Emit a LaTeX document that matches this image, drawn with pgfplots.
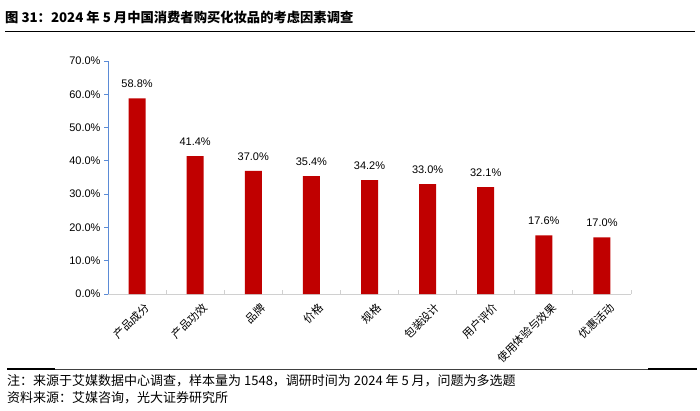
\documentclass[border=0pt]{standalone}
\usepackage{fontspec}
\setmainfont{Liberation Sans}
\newfontfamily\cjk{Noto Sans CJK SC}
\usepackage{pgfplots}
\pgfplotsset{compat=1.18}
\definecolor{barred}{HTML}{C00000}
\definecolor{yaxisblue}{HTML}{5B8BD6}
\definecolor{xaxisgray}{HTML}{D0D0D0}
\begin{document}
\begin{tikzpicture}[x=1pt,y=1pt]
\path[use as bounding box] (0pt,0pt) rectangle (700pt,410pt);
\node[anchor=west, inner sep=0pt, font=\cjk\bfseries\fontsize{13.3}{16}\selectfont] at (5pt,393pt) {图 31：2024 年 5 月中国消费者购买化妆品的考虑因素调查};
\draw[line width=1.5pt] (5pt,378.5pt) -- (695pt,378.5pt);
\begin{axis}[at={(108pt,116pt)}, anchor=south west, scale only axis,
  width=523pt, height=233pt,
  xmin=-0.5, xmax=8.5, ymin=0, ymax=70,
  axis x line=bottom, axis y line=left, axis line style={-},
  x axis line style={xaxisgray, line width=1pt},
  y axis line style={yaxisblue, line width=1pt},
  ytick={0,10,...,70},
  yticklabel={\pgfmathprintnumber[fixed,fixed zerofill,precision=1]{\tick}\%},
  y tick style={yaxisblue, line width=0.8pt},
  ytick align=outside, major tick length=4pt,
  y tick label style={font=\fontsize{11}{13}\selectfont, /pgf/number format/assume math mode=true},
  xtick={-0.5,0.5,...,8.5}, xticklabels={},
  x tick style={xaxisgray, line width=0.8pt},
  xtick align=inside,
  extra x ticks={0,1,2,3,4,5,6,7,8},
  extra x tick labels={产品成分,产品功效,品牌,价格,规格,包装设计,用户评价,使用体验与效果,优惠活动},
  extra x tick style={major tick length=0pt, tick label style={font=\cjk\fontsize{11}{13}\selectfont, rotate=45, anchor=north east, inner sep=0pt, xshift=-1pt, yshift=-10pt}},
  clip=false,
]
\addplot[ybar, bar width=17pt, fill=barred, draw=none,
  nodes near coords={\pgfmathprintnumber[fixed,fixed zerofill,precision=1]{\pgfplotspointmeta}\%},
  nodes near coords style={font=\fontsize{11}{13}\selectfont, text=black, yshift=7pt, /pgf/number format/assume math mode=true}]
coordinates {(0,58.8) (1,41.4) (2,37.0) (3,35.4) (4,34.2) (5,33.0) (6,32.1) (7,17.6) (8,17.0)};
\end{axis}
\draw[line width=0.6pt, black!75] (7pt,41pt) -- (697pt,41pt);
\draw[line width=1.5pt] (7pt,41pt) -- (55pt,41pt);
\draw[line width=1.5pt] (648pt,41pt) -- (697pt,41pt);
\node[anchor=west, inner sep=0pt, font=\cjk\fontsize{13}{14}\selectfont] at (7pt,29pt) {注：来源于艾媒数据中心调查，样本量为 1548，调研时间为 2024 年 5 月，问题为多选题};
\node[anchor=west, inner sep=0pt, font=\cjk\fontsize{13}{14}\selectfont] at (7pt,12pt) {资料来源：艾媒咨询，光大证券研究所};
\end{tikzpicture}
\end{document}
